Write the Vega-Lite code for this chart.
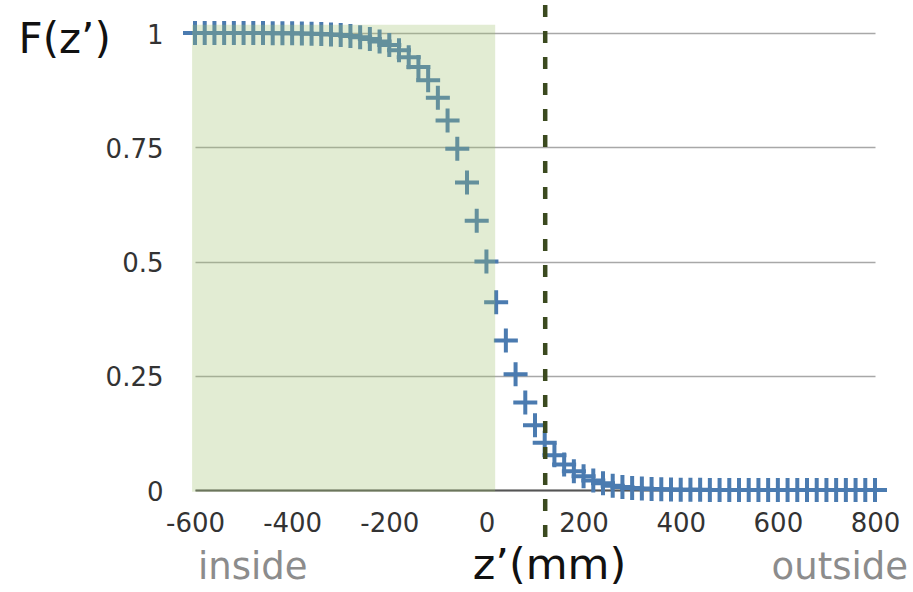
{
  "$schema": "https://vega.github.io/schema/vega-lite/v6.json",
  "width": 680,
  "height": 457,
  "autosize": {"type": "none"},
  "padding": {"left": 195, "top": 33, "right": 38, "bottom": 102},
  "background": "white",
  "config": {"view": {"stroke": null}, "font": "DejaVu Sans"},
  "datasets": {
    "curve": [
      {"z": -600, "F": 1.0}, {"z": -580, "F": 1.0}, {"z": -560, "F": 1.0}, {"z": -540, "F": 1.0},
      {"z": -520, "F": 1.0}, {"z": -500, "F": 0.9999}, {"z": -480, "F": 0.9999}, {"z": -460, "F": 0.9998},
      {"z": -440, "F": 0.9997}, {"z": -420, "F": 0.9995}, {"z": -400, "F": 0.9993}, {"z": -380, "F": 0.9989},
      {"z": -360, "F": 0.9985}, {"z": -340, "F": 0.9978}, {"z": -320, "F": 0.9969}, {"z": -300, "F": 0.9955},
      {"z": -280, "F": 0.9936}, {"z": -260, "F": 0.9909}, {"z": -240, "F": 0.9869}, {"z": -220, "F": 0.9814},
      {"z": -200, "F": 0.9735}, {"z": -180, "F": 0.9624}, {"z": -160, "F": 0.947}, {"z": -140, "F": 0.9257},
      {"z": -120, "F": 0.8968}, {"z": -100, "F": 0.8584}, {"z": -80, "F": 0.8087}, {"z": -60, "F": 0.7467},
      {"z": -40, "F": 0.6728}, {"z": -20, "F": 0.5891}, {"z": 0, "F": 0.5}, {"z": 20, "F": 0.4109},
      {"z": 40, "F": 0.3272}, {"z": 60, "F": 0.2533}, {"z": 80, "F": 0.1913}, {"z": 100, "F": 0.1416},
      {"z": 120, "F": 0.1032}, {"z": 140, "F": 0.0760}, {"z": 160, "F": 0.056}, {"z": 180, "F": 0.041},
      {"z": 200, "F": 0.030}, {"z": 220, "F": 0.021}, {"z": 240, "F": 0.015}, {"z": 260, "F": 0.0095},
      {"z": 280, "F": 0.0066}, {"z": 300, "F": 0.0045}, {"z": 320, "F": 0.0031}, {"z": 340, "F": 0.0022},
      {"z": 360, "F": 0.0015}, {"z": 380, "F": 0.0011}, {"z": 400, "F": 0.0007}, {"z": 420, "F": 0.0005},
      {"z": 440, "F": 0.0003}, {"z": 460, "F": 0.0002}, {"z": 480, "F": 0.0002}, {"z": 500, "F": 0.0001},
      {"z": 520, "F": 0.0001}, {"z": 540, "F": 0.0001}, {"z": 560, "F": 0.0}, {"z": 580, "F": 0.0},
      {"z": 600, "F": 0.0}, {"z": 620, "F": 0.0}, {"z": 640, "F": 0.0}, {"z": 660, "F": 0.0},
      {"z": 680, "F": 0.0}, {"z": 700, "F": 0.0}, {"z": 720, "F": 0.0}, {"z": 740, "F": 0.0},
      {"z": 760, "F": 0.0}, {"z": 780, "F": 0.0}, {"z": 800, "F": 0.0}
    ],
    "region": [{"z0": -606, "z1": 18, "f0": -0.004, "f1": 1.018}],
    "threshold": [{"z": 121, "f0": 1.061, "f1": -0.103}],
    "notes": [
      {"label": "inside", "z": -594, "F": -0.194},
      {"label": "outside", "z": 868, "F": -0.194}
    ]
  },
  "layer": [
    {
      "data": {"name": "curve"},
      "mark": {"type": "point", "shape": "M-1,0L1,0M0,-1L0,1", "size": 576, "strokeWidth": 4, "filled": false, "color": "#4b7bb0", "opacity": 1, "strokeCap": "butt"},
      "encoding": {
        "x": {
          "field": "z", "type": "quantitative",
          "scale": {"domain": [-600, 800], "nice": false, "zero": false},
          "axis": {
            "values": [-600, -400, -200, 0, 200, 400, 600, 800],
            "labelExpr": "'' + datum.value",
            "grid": false, "ticks": false,
            "domain": true, "domainColor": "#555555", "domainWidth": 2,
            "labelFontSize": 26, "labelColor": "#333333", "labelPadding": 20,
            "labelFlush": false, "labelOverlap": false,
            "title": "z’(mm)", "titleFontSize": 43, "titleFontWeight": "normal", "titleColor": "#111111",
            "titleX": 354, "titleY": 88, "titleAlign": "center", "titleBaseline": "alphabetic"
          }
        },
        "y": {
          "field": "F", "type": "quantitative",
          "scale": {"domain": [0, 1], "nice": false, "zero": false},
          "axis": {
            "values": [0, 0.25, 0.5, 0.75, 1],
            "labelExpr": "'' + datum.value",
            "grid": true, "gridColor": "#a8a8a8", "gridWidth": 1.5,
            "ticks": false, "domain": false,
            "labelFontSize": 26, "labelColor": "#333333", "labelPadding": 32, "labelOffset": 2,
            "title": "F(z’)", "titleAngle": 0, "titleAlign": "left", "titleBaseline": "alphabetic",
            "titleX": -177, "titleY": 19, "titleFontSize": 42, "titleFontWeight": "normal", "titleColor": "#111111"
          }
        }
      }
    },
    {
      "data": {"name": "region"},
      "mark": {"type": "rect", "fill": "#9ec06c", "opacity": 0.3},
      "encoding": {
        "x": {"field": "z0", "type": "quantitative"},
        "x2": {"field": "z1"},
        "y": {"field": "f0", "type": "quantitative"},
        "y2": {"field": "f1"}
      }
    },
    {
      "data": {"name": "threshold"},
      "mark": {"type": "rule", "color": "#3b4a1f", "strokeWidth": 4.5, "strokeDash": [12, 14]},
      "encoding": {
        "x": {"field": "z", "type": "quantitative"},
        "y": {"field": "f0", "type": "quantitative"},
        "y2": {"field": "f1"}
      }
    },
    {
      "data": {"name": "notes"},
      "transform": [{"filter": "datum.label == 'inside'"}],
      "mark": {"type": "text", "align": "left", "baseline": "alphabetic", "fontSize": 37, "color": "#8c8c8c"},
      "encoding": {
        "x": {"field": "z", "type": "quantitative"},
        "y": {"field": "F", "type": "quantitative"},
        "text": {"field": "label"}
      }
    },
    {
      "data": {"name": "notes"},
      "transform": [{"filter": "datum.label == 'outside'"}],
      "mark": {"type": "text", "align": "right", "baseline": "alphabetic", "fontSize": 37, "color": "#8c8c8c"},
      "encoding": {
        "x": {"field": "z", "type": "quantitative"},
        "y": {"field": "F", "type": "quantitative"},
        "text": {"field": "label"}
      }
    }
  ]
}
